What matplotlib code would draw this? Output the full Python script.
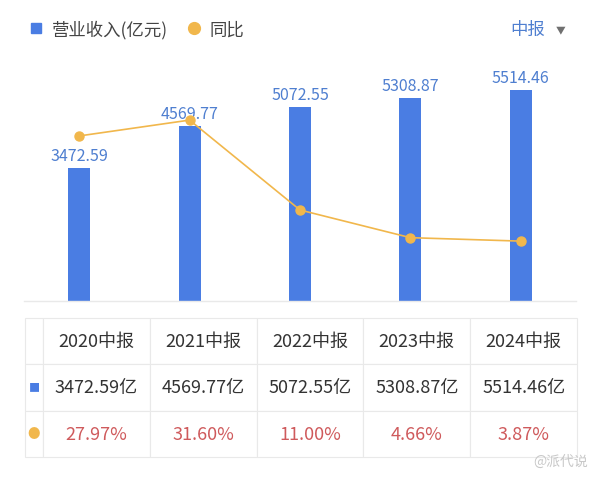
import matplotlib
matplotlib.use("Agg")
import matplotlib.pyplot as plt
from matplotlib.lines import Line2D

plt.rcParams['font.family'] = ['Noto Sans CJK SC', 'DejaVu Sans']

# data
periods = ["2020中报", "2021中报", "2022中报", "2023中报", "2024中报"]
revenue = [3472.59, 4569.77, 5072.55, 5308.87, 5514.46]
yoy = [27.97, 31.60, 11.00, 4.66, 3.87]

BLUE = "#4a7de3"
LABEL_BLUE = "#4f7fd0"
ORANGE = "#f1b74c"
RED = "#cf5a5c"
GRID = "#e9e9e9"
TXT = "#333333"

fig = plt.figure(figsize=(6.0, 4.81), dpi=100)

# chart area (pixel layout: x 24..576, y 60..302)
ax = fig.add_axes([24 / 600, 179 / 481, 552 / 600, 242 / 481])
x = list(range(len(periods)))
bars = ax.bar(x, revenue, width=0.2, color=BLUE, zorder=2)
for xi, v in zip(x, revenue):
    ax.annotate(f"{v:.2f}", (xi, v), xytext=(0, 3), textcoords="offset points",
                ha="center", va="bottom", fontsize=11.5, color=LABEL_BLUE,
                fontweight="medium")
ax.set_xlim(-0.5, len(periods) - 0.5)
ax.set_ylim(0, 6328)
for s in ["top", "right", "left"]:
    ax.spines[s].set_visible(False)
ax.spines["bottom"].set_color(GRID)
ax.spines["bottom"].set_linewidth(1)
ax.set_xticks([])
ax.set_yticks([])

ax2 = ax.twinx()
ax2.plot(x, yoy, color=ORANGE, lw=1.2, marker="o", markersize=6.5, zorder=3)
ax2.set_ylim(-9.85, 45.6)
ax2.axis("off")

# legend
handles = [
    Line2D([], [], marker="s", ls="none", color=BLUE, markersize=7),
    Line2D([], [], marker="o", ls="none", color=ORANGE, markersize=8.5),
]
fig.legend(handles, ["营业收入(亿元)", "同比"], loc="center left",
           bbox_to_anchor=(0.022, 1 - 30 / 481), ncol=2, frameon=False,
           handlelength=0.8, handletextpad=0.5, columnspacing=1.1,
           fontsize=12.5, labelcolor="#444444")

fig.text(510 / 600, 1 - 30 / 481, "中报", color=LABEL_BLUE, fontsize=12.5,
         ha="left", va="center")
fig.text(561 / 600, 1 - 30 / 481, "▼", color="#707070", fontsize=7,
         ha="center", va="center")

# table (pixel layout: x 25..577, y 319..458)
ax_t = fig.add_axes([25 / 600, 23 / 481, 552 / 600, 139 / 481])
ax_t.axis("off")
cells = [[""] + periods,
         ["■"] + [f"{v:.2f}亿" for v in revenue],
         ["●"] + [f"{v:.2f}%" for v in yoy]]
first_w = 18 / 552
col_w = [first_w] + [(1 - first_w) / len(periods)] * len(periods)
tab = ax_t.table(cellText=cells, colWidths=col_w, cellLoc="center", bbox=[0, 0, 1, 1])
tab.auto_set_font_size(False)
tab.set_fontsize(13)
for (r, c), cell in tab.get_celld().items():
    cell.set_edgecolor(GRID)
    cell.set_linewidth(0.8)
    t = cell.get_text()
    t.set_color(TXT)
    if c == 0:
        if r == 1:
            t.set_color(BLUE)
            t.set_fontsize(8)
        elif r == 2:
            t.set_color(ORANGE)
            t.set_fontsize(9)
    elif r == 2:
        t.set_color(RED)

fig.text(588 / 600, 1 - 462 / 481, "@派代说", color="#c8c8c8", fontsize=10,
         ha="right", va="center")

fig.savefig("out.png", dpi=100, facecolor="white")
